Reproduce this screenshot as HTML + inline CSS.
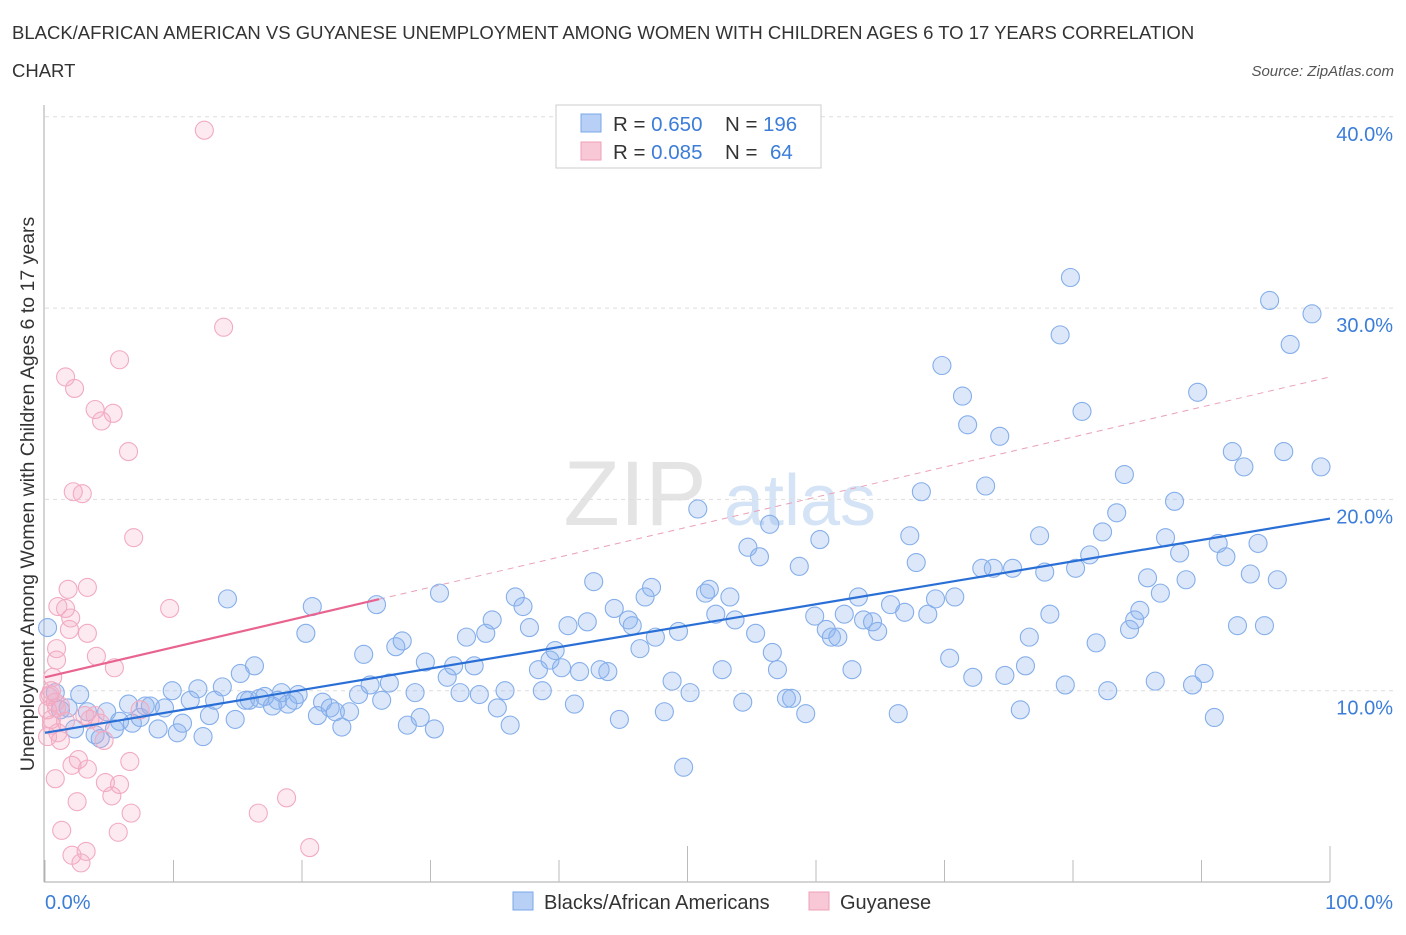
<!DOCTYPE html>
<html><head><meta charset="utf-8"><style>
body{margin:0;background:#fff;font-family:"Liberation Sans",sans-serif;}
svg text{font-family:"Liberation Sans",sans-serif;}
</style></head><body>
<svg id="chart" width="1406" height="930" xmlns="http://www.w3.org/2000/svg">
<text x="12" y="39" font-size="18.5" fill="#333">BLACK/AFRICAN AMERICAN VS GUYANESE UNEMPLOYMENT AMONG WOMEN WITH CHILDREN AGES 6 TO 17 YEARS CORRELATION</text>
<text x="12" y="77" font-size="18.5" fill="#333">CHART</text>
<text x="1394" y="76" font-size="15" fill="#555" font-style="italic" text-anchor="end">Source: ZipAtlas.com</text>
<text transform="translate(34,494) rotate(-90)" font-size="19.5" fill="#333" text-anchor="middle">Unemployment Among Women with Children Ages 6 to 17 years</text>
<g><text x="635" y="525" font-size="92" font-family="Liberation Serif" fill="#e4e4e4" text-anchor="middle">ZIP</text><text x="800" y="525" font-size="72" fill="#d4e3f5" text-anchor="middle">atlas</text></g>
<g id="grid"></g><g id="axes"></g><g id="trend"></g><g id="pts"></g>
<g>
<rect x="556" y="105" width="265" height="63" fill="#fff" stroke="#ccc"/>
<rect x="581" y="114" width="20" height="18" fill="#b8d0f5" stroke="#7aa7e8"/>
<text x="613" y="131" font-size="20.5" fill="#333">R = <tspan fill="#3b7dd8">0.650</tspan><tspan x="725">N = </tspan><tspan fill="#3b7dd8" x="763">196</tspan></text>
<rect x="581" y="142" width="20" height="18" fill="#f9c8d6" stroke="#f0a0b8"/>
<text x="613" y="159" font-size="20.5" fill="#333">R = <tspan fill="#3b7dd8">0.085</tspan><tspan x="725">N = </tspan><tspan fill="#3b7dd8" x="770">64</tspan></text>
</g>
<g>
<rect x="513" y="892" width="20" height="18" fill="#b8d0f5" stroke="#7aa7e8"/>
<text x="544" y="909" font-size="20" fill="#333">Blacks/African Americans</text>
<rect x="809" y="892" width="20" height="18" fill="#f9c8d6" stroke="#f0a0b8"/>
<text x="840" y="909" font-size="20" fill="#333">Guyanese</text>
</g>
</svg>
<script>
const blueX=[0.2,0.8,1.2,1.8,2.3,2.7,3.3,3.9,4.3,4.8,5.4,5.8,6.5,6.8,7.4,7.8,8.2,8.8,9.3,9.9,10.3,10.7,11.3,11.9,12.3,12.8,13.2,13.8,14.2,14.8,15.2,15.6,15.9,16.3,16.7,17.1,17.7,18.1,18.4,18.9,19.4,19.7,20.3,20.8,21.2,21.6,22.2,22.6,23.1,23.7,24.4,24.8,25.3,25.8,26.2,26.8,27.3,27.8,28.2,28.8,29.2,29.6,30.3,30.7,31.3,31.8,32.3,32.8,33.4,33.8,34.3,34.8,35.2,35.8,36.2,36.6,37.2,37.7,38.4,38.7,39.3,39.7,40.2,40.7,41.2,41.6,42.2,42.7,43.2,43.8,44.3,44.7,45.4,45.7,46.3,46.7,47.2,47.5,48.2,48.8,49.3,49.7,50.2,50.8,51.4,51.7,52.2,52.7,53.3,53.7,54.3,54.7,55.3,55.6,56.4,56.6,57.0,57.7,58.1,58.7,59.2,59.9,60.3,60.8,61.2,61.7,62.2,62.8,63.3,63.7,64.4,64.8,65.8,66.4,66.9,67.3,67.8,68.2,68.7,69.3,69.8,70.4,70.8,71.4,71.8,72.2,72.9,73.2,73.8,74.3,74.7,75.3,75.9,76.3,76.6,77.4,77.8,78.2,79.0,79.4,79.8,80.2,80.7,81.3,81.8,82.3,82.7,83.4,84.0,84.4,84.8,85.2,85.8,86.4,86.8,87.2,87.9,88.3,88.8,89.7,89.3,90.2,91.0,91.3,91.9,92.4,92.8,93.3,93.8,94.4,94.9,95.3,95.9,96.4,96.9,98.6,99.3];
const blueY=[13.3,9.9,9.0,9.1,8.0,9.8,8.9,7.7,7.5,8.9,8.0,8.4,9.3,8.3,8.6,9.2,9.2,8.0,9.1,10.0,7.8,8.3,9.5,10.1,7.6,8.7,9.5,10.2,14.8,8.5,10.9,9.5,9.5,11.3,9.6,9.7,9.2,9.5,9.9,9.3,9.5,9.8,13.0,14.4,8.7,9.4,9.1,8.9,8.1,8.9,9.8,11.9,10.3,14.5,9.5,10.4,12.3,12.6,8.2,9.9,8.6,11.5,8.0,15.1,10.7,11.3,9.9,12.8,11.3,9.8,13.0,13.7,9.1,10.0,8.2,14.9,14.4,13.3,11.1,10.0,11.6,12.1,11.2,13.4,9.3,11.0,13.6,15.7,11.1,11.0,14.3,8.5,13.7,13.4,12.2,14.9,15.4,12.8,8.9,10.5,13.1,6.0,9.9,19.5,15.1,15.3,14.0,11.1,14.9,13.7,9.4,17.5,13.0,17.0,18.7,12.0,11.1,9.6,9.6,16.5,8.8,13.9,17.9,13.2,12.8,12.8,14.0,11.1,14.9,13.7,13.6,13.1,14.5,8.8,14.1,18.1,16.7,20.4,14.0,14.8,27.0,11.7,14.9,25.4,23.9,10.7,16.4,20.7,16.4,23.3,10.8,16.4,9.0,11.3,12.8,18.1,16.2,14.0,28.6,10.3,31.6,16.4,24.6,17.1,12.5,18.3,10.0,19.3,21.3,13.2,13.7,14.2,15.9,10.5,15.1,18.0,19.9,17.2,15.8,25.6,10.3,10.9,8.6,17.7,17.0,22.5,13.4,21.7,16.1,17.7,13.4,30.4,15.8,22.5,28.1,29.7,21.7];
const pinkX=[12.4,13.9,5.8,1.6,2.3,3.9,5.3,4.4,6.5,2.2,2.9,6.9,1.8,3.3,9.7,1.0,1.6,2.0,3.3,1.9,4.0,0.9,0.9,5.4,0.6,0.5,0.4,0.8,1.2,0.2,0.9,3.9,3.1,3.5,1.6,4.3,1.0,1.2,4.6,6.6,2.6,2.1,3.3,0.8,4.7,5.8,5.2,2.5,18.8,16.6,6.7,1.3,5.7,2.1,3.2,2.8,20.6,7.4,0.2,0.5,0.3,0.5];
const pinkY=[39.3,29.0,27.3,26.4,25.8,24.7,24.5,24.1,22.5,20.4,20.3,18.0,15.3,15.4,14.3,14.4,14.3,13.8,13.0,13.2,11.8,12.2,11.6,11.2,10.7,10.0,9.8,9.4,9.2,9.0,9.1,8.7,8.7,8.5,8.4,8.3,7.8,7.4,7.4,6.3,6.4,6.1,5.9,5.4,5.2,5.1,4.5,4.2,4.4,3.6,3.6,2.7,2.6,1.4,1.6,1.0,1.8,9.0,7.6,8.2,9.7,8.5];
const blueTrend=[7.8,19.0];   // value at x=0, x=100
const pinkTrend=[10.7,26.4];  // value at x=0, x=100
const pinkSolidEnd=26;
const yTicks=[10,20,30,40];
const xTicks=[0,10,20,30,40,50,60,70,80,90,100];
const NS="http://www.w3.org/2000/svg";
const X0=45,X1=1330,Y0=882,PX10=19.13;
const sx=v=>X0+(X1-X0)*v/100;
const sy=v=>Y0-PX10*v;
function mk(tag,attrs,parent){const e=document.createElementNS(NS,tag);for(const k in attrs)e.setAttribute(k,attrs[k]);parent.appendChild(e);return e;}
const grid=document.getElementById('grid'),axes=document.getElementById('axes'),trend=document.getElementById('trend'),pts=document.getElementById('pts');
yTicks.forEach(t=>{
  const l=mk('line',{x1:X0,x2:1395,y1:sy(t),y2:sy(t),stroke:'#ddd','stroke-dasharray':'4,4'},grid);
  
  
  const tx=mk('text',{x:1393,y:sy(t)+24,'font-size':20,fill:'#3b7dd8','text-anchor':'end'},grid);
  tx.textContent=t.toFixed(1)+'%';
  
  
});
const ya=mk('line',{x1:44,x2:44,y1:105,y2:Y0,stroke:'#aaa'},axes);


const xa=mk('line',{x1:44,x2:X1,y1:Y0,y2:Y0,stroke:'#aaa'},axes);


xTicks.forEach(t=>{
  const long=(t===50||t===100);
  const l=mk('line',{x1:sx(t),x2:sx(t),y1:Y0,y2:Y0-(long?36:22),stroke:'#bbb'},axes);
  
  
});
[[0,'0.0%','start',45],[100,'100.0%','end',1393]].forEach(a=>{
  const tx=mk('text',{x:a[3],y:909,'font-size':20,fill:'#3b7dd8','text-anchor':a[2]},axes);
  tx.textContent=a[1];
  
  
});
blueX.forEach((x,i)=>{
  const c=mk('circle',{cx:sx(x),cy:sy(blueY[i]),r:9,fill:'rgba(140,180,240,0.3)',stroke:'#85aeea','stroke-width':1.1},pts);
  
  
});
pinkX.forEach((x,i)=>{
  const c=mk('circle',{cx:sx(x),cy:sy(pinkY[i]),r:9,fill:'rgba(245,170,195,0.25)',stroke:'#f2aac2','stroke-width':1.1},pts);
  
  
});
const pv=x=>pinkTrend[0]+(pinkTrend[1]-pinkTrend[0])*x/100;
const pd=mk('line',{x1:sx(pinkSolidEnd),y1:sy(pv(pinkSolidEnd)),x2:sx(100),y2:sy(pv(100)),stroke:'#eaa0b8','stroke-width':1,'stroke-dasharray':'6,5'},trend);


const ps=mk('line',{x1:sx(0),y1:sy(pv(0)),x2:sx(pinkSolidEnd),y2:sy(pv(pinkSolidEnd)),stroke:'#e8648f','stroke-width':2.2},pts);


const bl=mk('line',{x1:sx(0),y1:sy(blueTrend[0]),x2:sx(100),y2:sy(blueTrend[1]),stroke:'#2a6fd6','stroke-width':2.2},pts);


</script>
</body></html>
